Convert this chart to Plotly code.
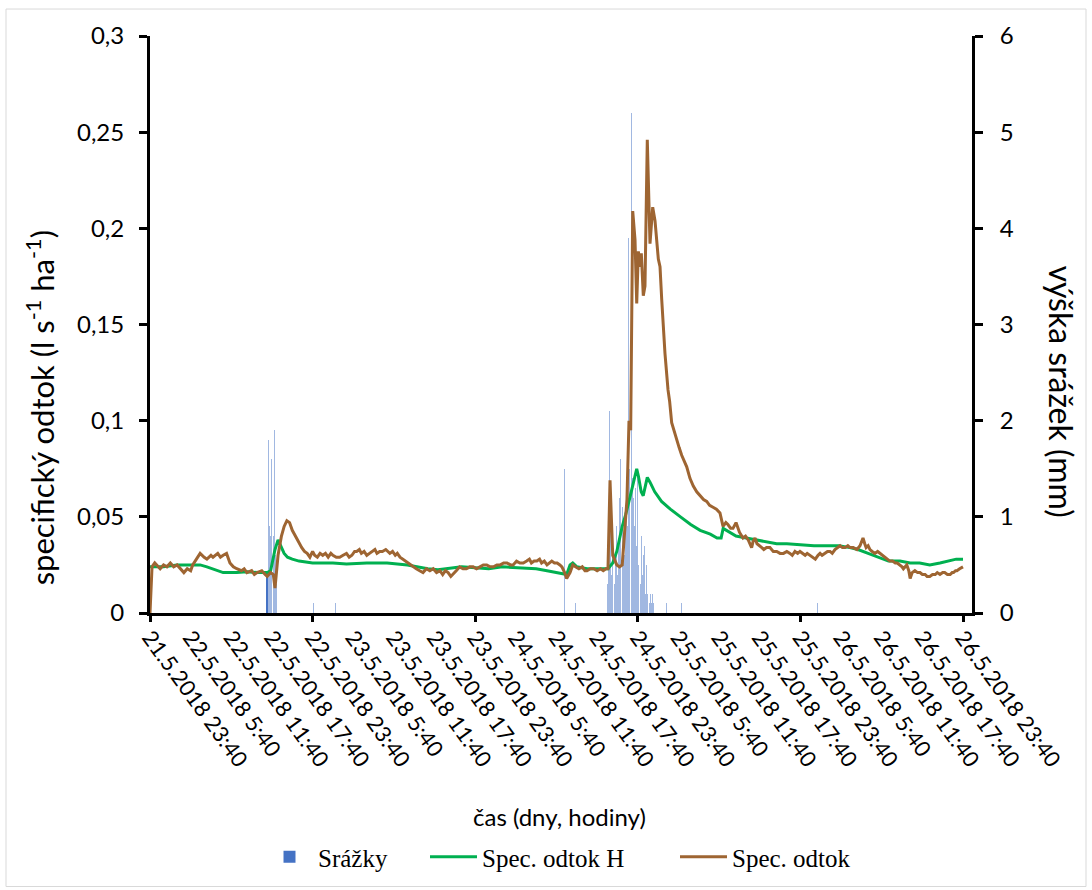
import plotly.graph_objects as go

# ---- data (time in hours since 21.5.2018 23:40) ----
# Spec. odtok: (hours, l s-1 ha-1)
odtok_points = [
    (0, 0.000), (0.3, 0.024), (0.7, 0.026), (1, 0.025), (1.5, 0.023), (2, 0.025), (2.5, 0.024),
    (3, 0.026), (3.5, 0.024), (4, 0.025), (4.5, 0.023), (5, 0.021), (5.5, 0.023), (6, 0.022),
    (6.3, 0.025), (7, 0.029), (7.4, 0.031), (8, 0.029), (8.4, 0.028), (9, 0.030), (9.3, 0.029),
    (10, 0.031), (10.4, 0.029), (10.8, 0.030), (11.3, 0.031), (11.8, 0.026), (12.3, 0.024),
    (12.8, 0.023), (13.5, 0.022), (13.9, 0.023), (14.3, 0.021), (15, 0.022), (15.4, 0.020),
    (15.8, 0.021), (16.5, 0.022), (17, 0.020), (17.3, 0.019), (17.8, 0.021), (18.2, 0.020),
    (18.45, 0.013), (18.9, 0.030), (19.4, 0.040), (19.8, 0.045), (20.2, 0.048), (20.6, 0.047),
    (21, 0.043), (21.3, 0.041), (21.7, 0.038), (22, 0.036), (22.4, 0.034), (22.8, 0.032),
    (23.2, 0.031), (23.6, 0.029), (24, 0.032), (24.3, 0.030), (24.7, 0.029), (25.1, 0.031),
    (25.5, 0.030), (25.9, 0.031), (26.3, 0.029), (26.7, 0.031), (27, 0.030), (27.5, 0.029),
    (28, 0.029), (28.5, 0.030), (29, 0.031), (29.4, 0.029), (29.8, 0.030), (30.2, 0.032),
    (30.5, 0.032), (30.9, 0.033), (31.2, 0.031), (31.6, 0.032), (32, 0.030), (32.4, 0.031),
    (32.8, 0.032), (33.2, 0.033), (33.5, 0.031), (33.9, 0.032), (34.3, 0.032), (34.8, 0.033),
    (35.4, 0.031), (35.8, 0.032), (36.2, 0.030), (36.5, 0.031), (36.9, 0.029), (37.3, 0.028),
    (37.6, 0.027), (38, 0.026), (38.4, 0.025), (38.8, 0.024), (39.3, 0.023), (39.8, 0.022),
    (40.3, 0.021), (40.8, 0.023), (41.3, 0.022), (41.8, 0.023), (42.3, 0.021), (42.8, 0.022),
    (43.2, 0.020), (43.6, 0.022), (44, 0.021), (44.4, 0.019), (44.7, 0.020), (45.2, 0.022),
    (45.7, 0.024), (46.2, 0.023), (46.7, 0.023), (47.2, 0.024), (47.7, 0.024), (48.2, 0.023),
    (48.7, 0.024), (49.2, 0.025), (49.7, 0.025), (50.2, 0.024), (50.7, 0.024), (51.2, 0.025),
    (51.7, 0.025), (52.2, 0.026), (52.7, 0.026), (53.2, 0.025), (53.6, 0.025), (54.1, 0.027),
    (54.6, 0.026), (55.1, 0.026), (55.6, 0.027), (56, 0.028), (56.3, 0.026), (56.7, 0.027),
    (57.1, 0.027), (57.5, 0.028), (57.8, 0.026), (58.2, 0.027), (58.6, 0.025), (59, 0.026),
    (59.3, 0.027), (59.7, 0.026), (60.1, 0.026), (60.5, 0.025), (60.8, 0.024), (61.2, 0.021),
    (61.5, 0.018), (62.0, 0.021), (62.4, 0.025), (62.8, 0.024), (63.3, 0.023), (63.8, 0.024),
    (64.2, 0.022), (64.5, 0.022), (65, 0.023), (65.5, 0.023), (66, 0.022), (66.5, 0.023),
    (66.9, 0.022), (67.3, 0.023), (67.6, 0.023), (67.9, 0.069), (68.3, 0.030), (68.9, 0.025),
    (69.3, 0.024), (69.7, 0.025), (70.1, 0.042), (70.4, 0.059), (70.7, 0.100), (70.95, 0.095),
    (71.25, 0.209), (71.59, 0.194), (71.84, 0.161), (72.08, 0.188), (72.32, 0.180),
    (72.52, 0.187), (72.81, 0.165), (73.06, 0.170), (73.4, 0.246), (73.8, 0.192), (74.2, 0.211),
    (74.54, 0.204), (75.03, 0.184), (75.28, 0.180), (75.53, 0.163), (76.01, 0.135),
    (76.46, 0.116), (76.7, 0.110), (77.0, 0.099), (77.4, 0.094), (77.74, 0.090), (78.1, 0.086),
    (78.48, 0.082), (78.8, 0.079), (79.22, 0.076), (79.7, 0.070), (80.19, 0.066), (80.7, 0.063),
    (81.18, 0.061), (81.7, 0.059), (82.17, 0.058), (82.6, 0.056), (83.1, 0.055), (83.6, 0.054),
    (84.13, 0.052), (84.58, 0.045), (85, 0.047), (85.3, 0.046), (85.7, 0.044), (86.05, 0.044),
    (86.5, 0.047), (87.0, 0.042), (87.53, 0.039), (87.9, 0.040), (88.3, 0.038), (88.8, 0.034),
    (89.0, 0.037), (89.3, 0.039), (89.6, 0.036), (90.0, 0.035), (90.3, 0.034), (90.6, 0.033),
    (91, 0.034), (91.5, 0.034), (92, 0.032), (92.5, 0.032), (93, 0.031), (93.5, 0.031),
    (94, 0.032), (94.46, 0.031), (94.8, 0.030), (95.2, 0.032), (95.6, 0.031), (95.94, 0.032),
    (96.3, 0.031), (96.7, 0.030), (97, 0.031), (97.42, 0.030), (97.8, 0.029), (98.2, 0.028),
    (98.6, 0.030), (98.9, 0.031), (99.2, 0.030), (99.6, 0.031), (100, 0.032), (100.37, 0.032),
    (100.7, 0.031), (101.1, 0.033), (101.5, 0.034), (101.85, 0.035), (102.2, 0.034),
    (102.6, 0.034), (103, 0.035), (103.32, 0.034), (103.8, 0.034), (104.35, 0.033),
    (104.8, 0.035), (105.24, 0.039), (105.5, 0.036), (105.7, 0.034), (106, 0.035),
    (106.27, 0.033), (106.6, 0.032), (107.0, 0.031), (107.4, 0.032), (107.75, 0.031),
    (108.1, 0.030), (108.5, 0.029), (108.9, 0.028), (109.2, 0.027), (109.6, 0.027),
    (110.0, 0.026), (110.3, 0.026), (110.7, 0.025), (111.0, 0.024), (111.2, 0.023),
    (111.5, 0.024), (111.7, 0.025), (112.0, 0.022), (112.2, 0.018), (112.5, 0.021),
    (112.9, 0.022), (113.3, 0.021), (113.65, 0.021), (114, 0.020), (114.4, 0.020),
    (114.7, 0.019), (115.1, 0.019), (115.5, 0.020), (115.9, 0.020), (116.2, 0.021),
    (116.6, 0.020), (117, 0.021), (117.3, 0.021), (117.7, 0.020), (118.1, 0.020),
    (118.4, 0.021), (118.6, 0.021), (118.9, 0.022), (119.1, 0.022), (119.5, 0.023), (120, 0.024),
]
odtok_h = [p[0] for p in odtok_points]
odtok = [p[1] for p in odtok_points]

odtok_H_h = [0, 2, 4, 6, 7.4, 8.4, 9.3, 10.8, 12.8, 14.3, 16, 17.3, 17.8, 18.0, 18.45, 18.9, 19.3,
             19.8, 20.3, 21, 22, 24, 27, 29, 32, 35, 38, 39.5, 41, 42.5, 44, 46, 48, 50, 52, 54.6,
             57, 58.6, 60, 61.5, 62.0, 62.4, 63, 64.5, 66, 67.6, 68.3, 68.9, 69.7, 70.2, 70.9, 71.4,
             71.84, 72.1, 72.5, 72.8, 73.2, 73.4, 73.8, 74.5, 75.5, 76.8, 78.3, 79.8, 81.2, 82.7,
             83.7, 84.3, 84.6, 85.5, 86.5, 88, 89.5, 91, 92.5, 94, 96, 98, 100, 101.7, 103.3, 104.5,
             106, 107.5, 109, 110.7, 112.2, 113.6, 115.1, 116.6, 118, 119, 120]
odtok_H = [0.024, 0.024, 0.025, 0.025, 0.025, 0.024, 0.023, 0.021, 0.021, 0.0215, 0.021, 0.021,
           0.022, 0.026, 0.033, 0.038, 0.035, 0.031, 0.029, 0.028, 0.027, 0.026, 0.026, 0.0255,
           0.026, 0.026, 0.025, 0.024, 0.023, 0.0225, 0.023, 0.024, 0.0235, 0.023, 0.024, 0.0235,
           0.023, 0.022, 0.021, 0.020, 0.025, 0.026, 0.024, 0.023, 0.023, 0.023, 0.026, 0.032,
           0.045, 0.051, 0.061, 0.068, 0.075, 0.071, 0.063, 0.061, 0.068, 0.0705, 0.068, 0.063,
           0.058, 0.054, 0.050, 0.046, 0.043, 0.041, 0.039, 0.039, 0.044, 0.042, 0.040, 0.039,
           0.038, 0.037, 0.036, 0.036, 0.0355, 0.035, 0.035, 0.035, 0.034, 0.033, 0.031, 0.029,
           0.027, 0.027, 0.026, 0.026, 0.025, 0.026, 0.027, 0.028, 0.028]

srazky_h = [17.33, 17.5, 17.67, 17.83, 18.0, 18.17, 18.33, 18.5, 18.67, 24.17, 27.33, 61.17, 62.83,
            67.5, 67.67, 67.83, 68.0, 68.17, 68.33, 68.5, 68.67, 68.83, 69.0, 69.17, 69.33, 69.5,
            69.67, 69.83, 70.0, 70.17, 70.33, 70.5, 70.67, 70.83, 71.0, 71.17, 71.33, 71.5, 71.67,
            71.83, 72.0, 72.17, 72.33, 72.5, 72.67, 72.83, 73.0, 73.17, 73.33, 73.5, 73.67, 73.83,
            74.0, 74.17, 74.33, 76.17, 78.5, 98.5]
srazky = [0.4, 1.8, 0.9, 0.8, 1.6, 0.8, 1.9, 0.6, 0.3, 0.1, 0.1, 1.5, 0.1,
          0.3, 0.5, 2.1, 1.0, 0.4, 0.8, 0.3, 0.6, 0.9, 0.4, 0.7, 1.2, 1.6,
          1.1, 0.8, 0.6, 1.0, 1.4, 0.9, 3.9, 1.5, 5.2, 1.4, 1.2, 0.9, 1.3,
          0.7, 1.5, 0.5, 0.3, 0.8, 0.4, 0.6, 0.7, 0.2, 0.5, 0.2, 0.1, 0.2,
          0.1, 0.2, 0.1, 0.1, 0.1, 0.1]

x_tick_h = [0, 6, 12, 18, 24, 30, 36, 42, 48, 54, 60, 66, 72, 78, 84, 90, 96, 102, 108, 114, 120]
x_tick_text = ["21.5.2018 23:40", "22.5.2018 5:40", "22.5.2018 11:40", "22.5.2018 17:40",
               "22.5.2018 23:40", "23.5.2018 5:40", "23.5.2018 11:40", "23.5.2018 17:40",
               "23.5.2018 23:40", "24.5.2018 5:40", "24.5.2018 11:40", "24.5.2018 17:40",
               "24.5.2018 23:40", "25.5.2018 5:40", "25.5.2018 11:40", "25.5.2018 17:40",
               "25.5.2018 23:40", "26.5.2018 5:40", "26.5.2018 11:40", "26.5.2018 17:40",
               "26.5.2018 23:40"]
day_tick_h = [0, 24, 48, 72, 96, 120]
left_tick_vals = [0, 0.05, 0.1, 0.15, 0.2, 0.25, 0.3]
left_tick_text = ["0", "0,05", "0,1", "0,15", "0,2", "0,25", "0,3"]
right_tick_vals = [0, 1, 2, 3, 4, 5, 6]

FONT = "Lato"
W, H = 1092, 890
ML, MR, MT, MB = 150, 120, 36, 276
PW, PH = W - ML - MR, H - MT - MB
x_max = 120 * PW / 813.0

def px(xp):
    return (xp - ML) / PW

def py(yp):
    return (H - MB - yp) / PH

# first bar solid (legend swatch), the rest translucent like the thin Excel bars
bar_colors = ["#4472C4"] + ["rgba(68,114,196,0.5)"] * (len(srazky) - 1)

fig = go.Figure()
fig.add_trace(go.Bar(x=srazky_h, y=srazky, width=0.15, name="Srážky",
                     marker=dict(color=bar_colors, line=dict(width=0)),
                     xaxis="x", yaxis="y", legend="legend"))
fig.add_trace(go.Scatter(x=odtok_H_h, y=odtok_H, mode="lines", name="Spec. odtok H",
                         line=dict(color="#00B050", width=3), xaxis="x", yaxis="y2",
                         legend="legend2"))
fig.add_trace(go.Scatter(x=odtok_h, y=odtok, mode="lines", name="Spec. odtok",
                         line=dict(color="#9E6532", width=3), xaxis="x", yaxis="y2",
                         legend="legend3"))
fig.add_trace(go.Scatter(x=day_tick_h, y=[None] * len(day_tick_h), mode="lines",
                         showlegend=False, hoverinfo="skip", xaxis="x2", yaxis="y"))

axis_font = dict(family=FONT, size=24, color="black")
leg_font = dict(family="Liberation Serif", size=25, color="black")

def legend_at(xp):
    return dict(orientation="h", x=px(xp), y=py(857), xanchor="left", yanchor="middle",
                font=leg_font, itemwidth=47, bgcolor="rgba(0,0,0,0)")

fig.update_layout(
    width=W, height=H,
    margin=dict(l=ML, r=MR, t=MT, b=MB, pad=0),
    paper_bgcolor="white", plot_bgcolor="white",
    bargap=0,
    xaxis=dict(range=[0, x_max], tickvals=x_tick_h, ticktext=x_tick_text, tickangle=54,
               ticks="", showgrid=False, zeroline=False, showline=True, linecolor="black",
               linewidth=3, tickfont=dict(family=FONT, size=22, color="black")),
    xaxis2=dict(range=[0, x_max], overlaying="x", anchor="y", side="bottom",
                tickvals=day_tick_h, showticklabels=False, ticks="outside", ticklen=8,
                tickwidth=3, tickcolor="black", showgrid=False, zeroline=False, showline=False),
    yaxis=dict(range=[0, 6], side="right", tickvals=right_tick_vals, ticks="outside",
               ticklen=8, tickwidth=3, tickcolor="black", showgrid=False, zeroline=False,
               showline=True, linecolor="black", linewidth=3, tickfont=axis_font,
               ticklabelstandoff=12),
    yaxis2=dict(range=[0, 0.3], side="left", overlaying="y", anchor="x",
                tickvals=left_tick_vals, ticktext=left_tick_text, ticks="outside",
                ticklen=8, tickwidth=3, tickcolor="black", showgrid=False, zeroline=False,
                showline=True, linecolor="black", linewidth=3, tickfont=axis_font,
                ticklabelstandoff=10),
    legend=legend_at(261),
    legend2=legend_at(425),
    legend3=legend_at(675),
    annotations=[
        dict(text="specifický odtok (l s<sup>-1</sup> ha<sup>-1</sup>)", x=px(40), y=py(409),
             xref="paper", yref="paper", textangle=-90, showarrow=False,
             font=dict(family=FONT, size=31, color="black"), xanchor="center", yanchor="middle"),
        dict(text="výška srážek (mm)", x=px(1062), y=py(392),
             xref="paper", yref="paper", textangle=90, showarrow=False,
             font=dict(family=FONT, size=32, color="black"), xanchor="center", yanchor="middle"),
        dict(text="čas (dny, hodiny)", x=px(559), y=py(818),
             xref="paper", yref="paper", showarrow=False,
             font=dict(family=FONT, size=24, color="black"), xanchor="center", yanchor="middle"),
    ],
    shapes=[dict(type="rect", xref="paper", yref="paper", x0=px(6), x1=px(1086),
                 y0=py(888), y1=py(9), line=dict(color="#D9D9D9", width=1), layer="below")],
)

fig.write_html("out.html")
